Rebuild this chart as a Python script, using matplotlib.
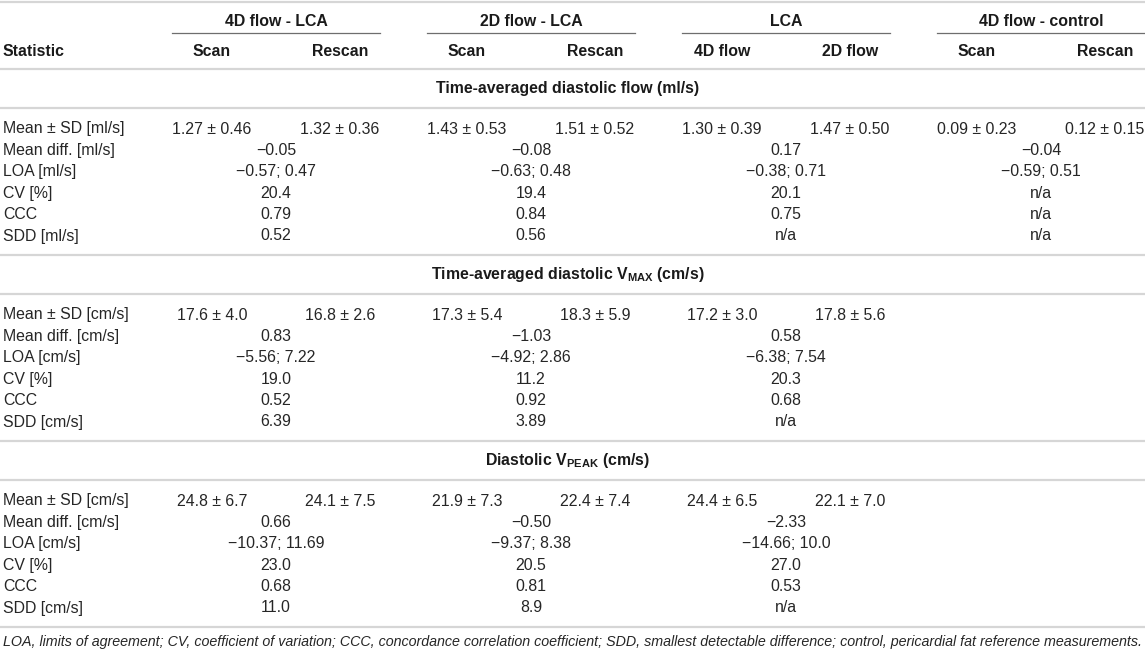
import matplotlib.pyplot as plt

plt.rcParams['font.family'] = ['Liberation Sans', 'DejaVu Sans']
plt.rcParams['mathtext.fontset'] = 'custom'
plt.rcParams['mathtext.rm'] = 'Liberation Sans'
plt.rcParams['mathtext.bf'] = 'Liberation Sans:bold'

# -------------------------------
# Table content
# -------------------------------
groups = ['4D flow - LCA', '2D flow - LCA', 'LCA', '4D flow - control']
subheads = ['Scan', 'Rescan', 'Scan', 'Rescan', '4D flow', '2D flow', 'Scan', 'Rescan']

sections = [
    'Time-averaged diastolic flow (ml/s)',
    r'Time-averaged diastolic $\mathbf{V_{MAX}}$ (cm/s)',
    r'Diastolic $\mathbf{V_{PEAK}}$ (cm/s)',
]

labels_flow = ['Mean ± SD [ml/s]', 'Mean diff. [ml/s]', 'LOA [ml/s]', 'CV [%]', 'CCC', 'SDD [ml/s]']
labels_vel = ['Mean ± SD [cm/s]', 'Mean diff. [cm/s]', 'LOA [cm/s]', 'CV [%]', 'CCC', 'SDD [cm/s]']

# per-scan values (one per sub column)
mean_sd_flow = ['1.27 ± 0.46', '1.32 ± 0.36', '1.43 ± 0.53', '1.51 ± 0.52',
                '1.30 ± 0.39', '1.47 ± 0.50', '0.09 ± 0.23', '0.12 ± 0.15']
mean_sd_vmax = ['17.6 ± 4.0', '16.8 ± 2.6', '17.3 ± 5.4', '18.3 ± 5.9',
                '17.2 ± 3.0', '17.8 ± 5.6', '', '']
mean_sd_vpeak = ['24.8 ± 6.7', '24.1 ± 7.5', '21.9 ± 7.3', '22.4 ± 7.4',
                 '24.4 ± 6.5', '22.1 ± 7.0', '', '']

# agreement values (one per group)
flow_stats = [
    ['−0.05', '−0.08', '0.17', '−0.04'],
    ['−0.57; 0.47', '−0.63; 0.48', '−0.38; 0.71', '−0.59; 0.51'],
    ['20.4', '19.4', '20.1', 'n/a'],
    ['0.79', '0.84', '0.75', 'n/a'],
    ['0.52', '0.56', 'n/a', 'n/a'],
]
vmax_stats = [
    ['0.83', '−1.03', '0.58', ''],
    ['−5.56; 7.22', '−4.92; 2.86', '−6.38; 7.54', ''],
    ['19.0', '11.2', '20.3', ''],
    ['0.52', '0.92', '0.68', ''],
    ['6.39', '3.89', 'n/a', ''],
]
vpeak_stats = [
    ['0.66', '−0.50', '−2.33', ''],
    ['−10.37; 11.69', '−9.37; 8.38', '−14.66; 10.0', ''],
    ['23.0', '20.5', '27.0', ''],
    ['0.68', '0.81', '0.53', ''],
    ['11.0', '8.9', 'n/a', ''],
]

footnote = ('LOA, limits of agreement; CV, coefficient of variation; CCC, concordance '
            'correlation coefficient; SDD, smallest detectable difference; control, '
            'pericardial fat reference measurements.')

blocks = [
    (sections[0], labels_flow, mean_sd_flow, flow_stats),
    (sections[1], labels_vel, mean_sd_vmax, vmax_stats),
    (sections[2], labels_vel, mean_sd_vpeak, vpeak_stats),
]

# -------------------------------
# Layout (pixel coordinates)
# -------------------------------
W, H = 1145, 651
fig = plt.figure(figsize=(W / 100, H / 100), dpi=100)
ax = fig.add_axes([0, 0, 1, 1])
ax.set_xlim(0, W)
ax.set_ylim(H, 0)
ax.axis('off')

FS = 11.4
TXT = '#262626'
RULE = '#d6d6d6'

group_left = [172 + 255 * g for g in range(4)]
group_width = 208
group_center = [x + group_width / 2 for x in group_left]
col_center = []
for g in range(4):
    col_center += [group_left[g] + 40, group_left[g] + 168]

def rule(y):
    ax.plot([0, W], [y, y], color=RULE, lw=1.6, solid_capstyle='butt')

# header
rule(2)
for g, name in enumerate(groups):
    ax.text(group_center[g], 21, name, ha='center', va='center',
            fontsize=FS, fontweight='bold', color='#1a1a1a')
    ax.plot([group_left[g], group_left[g] + group_width], [33, 33],
            color='#6e6e6e', lw=0.9)
ax.text(3, 52, 'Statistic', ha='left', va='center',
        fontsize=FS, fontweight='bold', color='#1a1a1a')
for c, name in enumerate(subheads):
    ax.text(col_center[c], 52, name, ha='center', va='center',
            fontsize=FS, fontweight='bold', color='#1a1a1a')
rule(69)

row_h = 21.4
y0 = 69
for title, labels, mean_sd, stats in blocks:
    ax.text(568, y0 + 19.5, title, ha='center', va='center',
            fontsize=FS, fontweight='bold', color='#1a1a1a')
    rule(y0 + 39)
    y = y0 + 60
    for i, lab in enumerate(labels):
        ax.text(3, y + i * row_h, lab, ha='left', va='center',
                fontsize=FS, color=TXT)
    for c, val in enumerate(mean_sd):
        ax.text(col_center[c], y, val, ha='center', va='center',
                fontsize=FS, color=TXT)
    for i, vals in enumerate(stats):
        for g, val in enumerate(vals):
            ax.text(group_center[g], y + (i + 1) * row_h, val, ha='center',
                    va='center', fontsize=FS, color=TXT)
    y0 = y + 5 * row_h + 19
    rule(y0)

ax.text(3, 642, footnote, ha='left', va='center', fontsize=10.3,
        style='italic', color=TXT)

fig.savefig('out.png', dpi=100)
